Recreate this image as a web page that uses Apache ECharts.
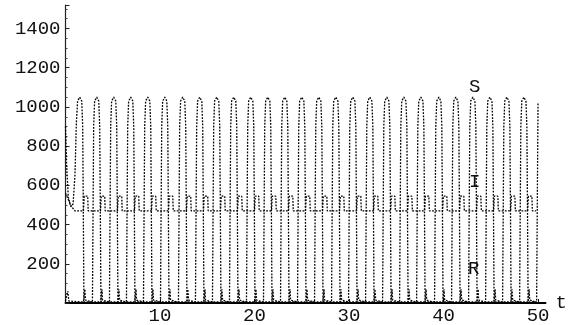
<!DOCTYPE html>
<html>
<head>
<meta charset="utf-8">
<script src="https://cdn.jsdelivr.net/npm/echarts@6/dist/echarts.min.js"></script>
<style>
  html, body { margin: 0; padding: 0; background: #fff; }
  #chart { width: 571px; height: 325px; }
</style>
</head>
<body>
<div id="chart"></div>
<script>
// times of the S peaks
const peakTimes = [1.5, 3.3, 5.1, 6.9, 8.7, 10.5, 12.4, 14.2, 16.0, 17.8, 19.6, 21.4, 23.2,
  25.0, 26.8, 28.6, 30.4, 32.2, 34.0, 35.8, 37.6, 39.5, 41.3, 43.1, 44.9, 46.7, 48.5, 50.3];

// one cycle of each curve: [offset from peak, value]
const sCycle = [[-0.45, 5], [-0.38, 500], [-0.32, 900], [-0.22, 1030], [0, 1050],
  [0.22, 1030], [0.32, 900], [0.38, 500], [0.45, 5]];
const iCycle = [[0.4, 470], [0.48, 545], [0.85, 545], [0.9, 470], [1.3, 470]];
const rCycle = [[0.45, 5], [0.55, 70], [0.62, 15], [0.75, 5], [1.3, 5]];

// opening part before the first peak
const sStart = [[0, 900], [0.12, 700], [0.3, 540], [0.55, 490], [0.8, 505], [1.0, 650], [1.15, 920], [1.28, 1030]];
const iStart = [[0, 560], [0.6, 495], [1.0, 470], [1.9, 470]];
const rStart = [[0, 10], [0.25, 60], [0.35, 10], [1.9, 5]];

const yTicks = [200, 400, 600, 800, 1000, 1200, 1400];
const xTicks = [10, 20, 30, 40, 50];
const tEnd = 50;

function build(start, cycle) {
  const out = start.slice();
  peakTimes.forEach(function (tp) {
    cycle.forEach(function (p) {
      const t = +(tp + p[0]).toFixed(3);
      if (t > out[out.length - 1][0] && t <= tEnd) out.push([t, p[1]]);
    });
  });
  return out;
}

const sData = build(sStart, sCycle);
sData.push([tEnd, 1020]);
const iData = build(iStart, iCycle);
const rData = build(rStart, rCycle);

const chart = echarts.init(document.getElementById('chart'));
const font = 'Liberation Mono, DejaVu Sans Mono, monospace';
const lineStyle = { color: '#000', width: 1.3, type: [1.8, 1.4] };

chart.setOption({
  animation: false,
  backgroundColor: '#fff',
  grid: { left: 65.5, right: 25.4, top: 5, bottom: 21 },
  xAxis: {
    type: 'value', min: 0, max: 50.8, interval: 10,
    name: 't', nameLocation: 'end', nameGap: 10,
    nameTextStyle: { fontFamily: font, fontSize: 19, color: '#111', verticalAlign: 'middle', padding: [6, 0, 0, 0] },
    axisLine: { lineStyle: { color: '#000', width: 1.8 } },
    axisTick: { inside: true, length: 4, lineStyle: { color: '#111' } },
    splitLine: { show: false },
    axisLabel: {
      fontFamily: font, fontSize: 19, color: '#111', margin: 3, showMaxLabel: false,
      formatter: function (v) { return xTicks.indexOf(v) >= 0 ? String(v) : ''; }
    }
  },
  yAxis: {
    type: 'value', min: 0, max: 1520, interval: 200,
    axisLine: { show: true, lineStyle: { color: '#222', width: 1.2 } },
    axisTick: { show: true, inside: true, length: 4, lineStyle: { color: '#222' } },
    minorTick: { show: true, splitNumber: 4, length: 2, lineStyle: { color: '#444' } },
    splitLine: { show: false },
    axisLabel: {
      fontFamily: font, fontSize: 19, color: '#111', margin: 5, showMaxLabel: false,
      formatter: function (v) { return yTicks.indexOf(v) >= 0 ? String(v) : ''; }
    }
  },
  series: [
    { name: 'S', type: 'line', data: sData, showSymbol: false, lineStyle: lineStyle, z: 3 },
    { name: 'I', type: 'line', data: iData, showSymbol: false, lineStyle: lineStyle, z: 2 },
    { name: 'R', type: 'line', data: rData, showSymbol: false, lineStyle: lineStyle, z: 2 }
  ],
  graphic: [
    { type: 'text', left: 469, top: 77, style: { text: 'S', font: '19px ' + font, fill: '#111' } },
    { type: 'text', left: 469, top: 172, style: { text: 'I', font: '19px ' + font, fill: '#111' } },
    { type: 'text', left: 468, top: 259, style: { text: 'R', font: '19px ' + font, fill: '#111' } }
  ]
});
</script>
</body>
</html>
